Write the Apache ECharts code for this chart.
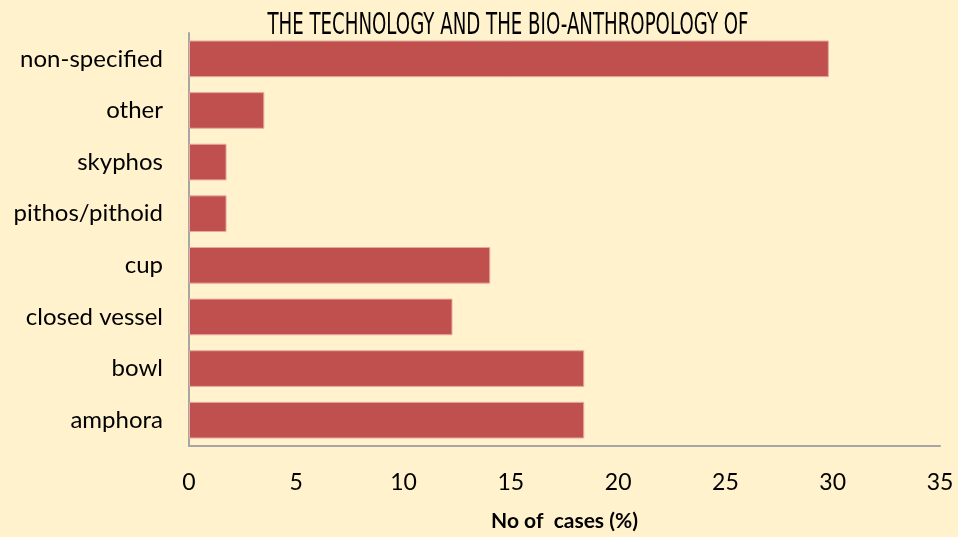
<!DOCTYPE html>
<html>
<head>
<meta charset="utf-8">
<script src="https://cdn.jsdelivr.net/npm/echarts@6/dist/echarts.min.js"></script>
<style>
  html, body { margin: 0; padding: 0; background: #fff2cc; }
  #chart { width: 958px; height: 537px; }
</style>
</head>
<body>
<div id="chart"></div>
<script>
// vessel types, bottom to top as drawn
const categories = ['amphora', 'bowl', 'closed vessel', 'cup', 'pithos/pithoid', 'skyphos', 'other', 'non-specified'];
// share of cases (%)
const cases = [18.42, 18.42, 12.28, 14.04, 1.75, 1.75, 3.51, 29.82];
const xTicks = [0, 35, 5];   // min, max, step

const titleText = 'THE TECHNOLOGY AND THE BIO-ANTHROPOLOGY OF';
const axisName = 'No of  cases (%)';

let chart = echarts.init(document.getElementById('chart'), null, {renderer: 'canvas'});
chart.setOption({
  backgroundColor: '#fff2cc',
  animation: false,
  // page header is a narrow face, squeeze it horizontally
  graphic: [{
    type: 'text',
    x: 508,
    y: 26,
    scaleX: 0.606,
    style: {
      text: titleText,
      font: '30px "DejaVu Sans", sans-serif',
      fill: '#000',
      align: 'center',
      verticalAlign: 'middle'
    }
  }],
  grid: {
    left: 189,
    right: 18,
    top: 33,
    bottom: 87,
    containLabel: false
  },
  xAxis: {
    type: 'value',
    min: xTicks[0],
    max: xTicks[1],
    interval: xTicks[2],
    name: axisName,
    nameLocation: 'middle',
    nameGap: 65,
    nameTextStyle: {
      fontFamily: 'Lato, sans-serif',
      fontWeight: 'bold',
      fontSize: 21,
      color: '#000'
    },
    axisLine: {show: true, lineStyle: {color: '#a6a6a6', width: 2}},
    axisTick: {show: false},
    splitLine: {show: false},
    axisLabel: {
      margin: 25,
      fontFamily: 'Lato, sans-serif',
      fontSize: 23,
      color: '#000'
    }
  },
  yAxis: {
    type: 'category',
    data: categories,
    axisLine: {show: true, lineStyle: {color: '#a6a6a6', width: 2}},
    axisTick: {show: false},
    axisLabel: {
      margin: 26,
      fontFamily: 'Lato, sans-serif',
      fontSize: 24,
      color: '#000'
    }
  },
  series: [{
    type: 'bar',
    data: cases,
    barCategoryGap: '29%',
    itemStyle: {
      color: '#c0504d',
      borderColor: '#e8a9a0',
      borderWidth: 1
    }
  }]
});
</script>
</body>
</html>
